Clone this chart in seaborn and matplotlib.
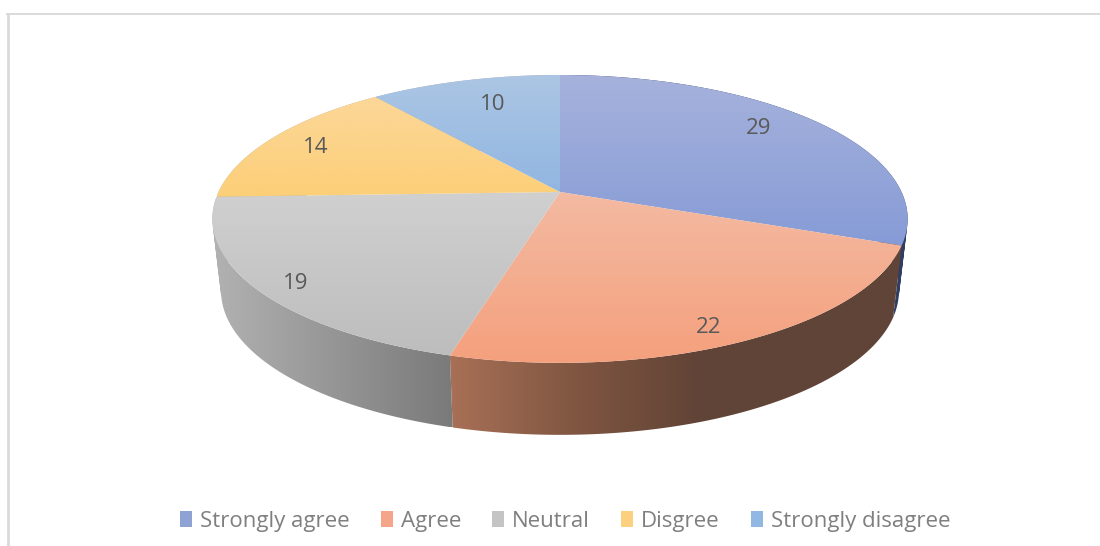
import numpy as np
import matplotlib
matplotlib.use("Agg")
import matplotlib.pyplot as plt
from matplotlib.patches import Polygon, Patch
from matplotlib.path import Path
import seaborn as sns

# data
categories = ["Strongly agree", "Agree", "Neutral", "Disgree", "Strongly disagree"]
values = [29, 22, 19, 14, 10]

# styles
legend_hex = ["#8FA2D4", "#F4A58A", "#C4C4C4", "#FDD07F", "#91B8E3"]
top_grad = [((166, 178, 220), (134, 155, 214)),
            ((243, 186, 162), (245, 160, 125)),
            ((208, 208, 208), (189, 189, 189)),
            ((252, 215, 152), (252, 207, 120)),
            ((172, 198, 228), (145, 182, 225))]
side_stops = [([0.0, 1.0], [(48, 62, 100), (48, 62, 100)]),
              ([0.0, 0.3, 0.55, 1.0], [(168, 112, 86), (125, 84, 64), (97, 68, 55), (95, 68, 55)]),
              ([0.0, 0.5, 1.0], [(178, 178, 178), (150, 150, 150), (122, 122, 122)]),
              ([0.0, 1.0], [(178, 178, 178), (178, 178, 178)]),
              ([0.0, 1.0], [(178, 178, 178), (178, 178, 178)])]
label_xy = [(759, 128.5), (709, 327.5), (296, 283.5), (316, 147.5), (493, 104.5)]

W, H = 1100, 546
L, T = 7.5, 14
sns.set_theme(style="white")
plt.rcParams["font.family"] = ["Open Sans", "DejaVu Sans"]
palette = sns.color_palette(legend_hex)

fig = plt.figure(figsize=(W / 100, H / 100), dpi=100, facecolor="white")
ax = fig.add_axes([L / W, 0, (W - L) / W, (H - T) / H])

# the pie turns the values into angles; it is then re-projected in perspective
wedges, _ = ax.pie(values, startangle=90, counterclock=False, colors=palette)
angles = [(w.theta2, w.theta1) for w in wedges]
for w in wedges:
    w.remove()
ax.set_aspect("auto")
ax.set_frame_on(True)
ax.set_xlim(L, W)
ax.set_ylim(H, T)

CX, CY, A, B, K = 560.0, 192.0, 341.5, 138.9, 0.187
DEPTH, SHRINK = 72.0, 0.975


def arc(start, stop, n=240):
    t = np.radians(np.linspace(start, stop, n))
    d = 1 + K * np.sin(t)
    return A * np.cos(t) / d, B * np.sin(t) / d


def gradient(path, rows, z):
    xs, ys = path.vertices.T
    x0, x1, y0, y1 = xs.min(), xs.max(), ys.min(), ys.max()
    im = ax.imshow(rows, extent=(x0, x1, y1, y0), aspect="auto",
                   interpolation="bilinear", zorder=z)
    im.set_clip_path(path, transform=ax.transData)


def swept_band(top, bot):
    """Union of small consistently wound quads between the two arcs."""
    polys = []
    for j in range(len(top) - 1):
        q = np.array([top[j], top[j + 1], bot[j + 1], bot[j]])
        qx, qy = q.T
        area = np.dot(qx, np.roll(qy, -1)) - np.dot(qy, np.roll(qx, -1))
        polys.append(q if area > 0 else q[::-1])
    return Path.make_compound_path(*[Path(np.r_[q, q[:1]], closed=True) for q in polys])


for i, (t0, t1) in enumerate(angles):
    x, y = arc(t0, t1)
    top = np.c_[CX + x, CY - y]
    bot = np.c_[CX + x * SHRINK, CY + DEPTH - y]
    band = swept_band(top, bot)
    pos, cols = side_stops[i]
    u = np.linspace(0, 1, 256)
    rows = np.stack([np.interp(u, pos, [c[j] for c in cols]) for j in range(3)], axis=1)
    gradient(band, (rows / 255)[None, :, :], 1 + i * 0.01 if i < 3 else 0.5)

for i, (t0, t1) in enumerate(angles):
    x, y = arc(t0, t1)
    verts = np.r_[[[CX, CY]], np.c_[CX + x, CY - y], [[CX, CY]]]
    face = Path(verts, closed=True)
    c0, c1 = np.array(top_grad[i], dtype=float) / 255
    u = np.linspace(0, 1, 256)[:, None]
    gradient(face, (c0 + (c1 - c0) * u)[:, None, :], 3)

ax.set_xlim(L, W)
ax.set_ylim(H, T)

for v, (lx, ly) in zip(values, label_xy):
    ax.text(lx, ly, str(v), ha="center", va="center", fontsize=16, color="#595959", zorder=5)

handles = [Patch(fc=c, ec="none") for c in palette]
ax.legend(handles, categories, ncol=5, loc="center", bbox_to_anchor=(565, 521.5),
          bbox_transform=ax.transData, frameon=False, fontsize=16,
          labelcolor="#7F7F7F", handlelength=0.54, handleheight=0.75,
          handletextpad=0.36, columnspacing=1.4, borderpad=0)

ax.set_xticks([])
ax.set_yticks([])
sns.despine(ax=ax, top=False, left=False, right=True, bottom=True)
for side, lw in (("top", 1.4), ("left", 2.0)):
    ax.spines[side].set_color("#DADADA")
    ax.spines[side].set_linewidth(lw)

fig.savefig("out.png", dpi=100, facecolor="white")
